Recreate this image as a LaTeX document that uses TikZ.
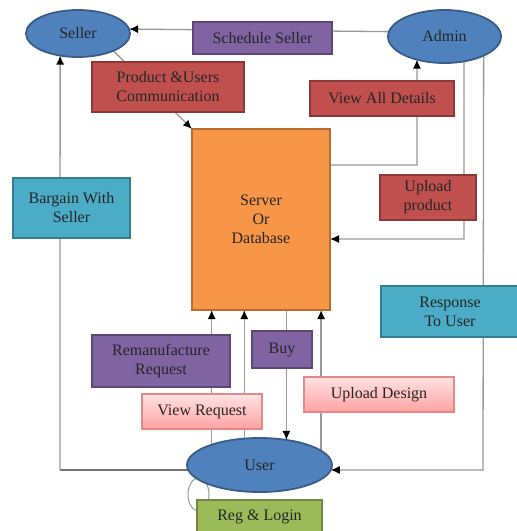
\documentclass[tikz,border=0pt]{standalone}
\usepackage{fontspec}
\setmainfont{Liberation Serif}
\usetikzlibrary{shapes.geometric,arrows.meta}
\pgfdeclarelayer{background}
\pgfsetlayers{background,main}

\definecolor{txt}{HTML}{262626}
\definecolor{bluefill}{HTML}{4F81BD}
\definecolor{blueline}{HTML}{385D8A}
\definecolor{purpfill}{HTML}{8064A2}
\definecolor{purpline}{HTML}{5C4776}
\definecolor{redfill}{HTML}{C0504D}
\definecolor{redline}{HTML}{8C3836}
\definecolor{tealfill}{HTML}{4BACC6}
\definecolor{tealline}{HTML}{357D91}
\definecolor{greenfill}{HTML}{9BBB59}
\definecolor{greenline}{HTML}{71893F}
\definecolor{orangefill}{HTML}{F79646}
\definecolor{orangeline}{HTML}{B66D31}
\definecolor{pinktop}{HTML}{FFE2E2}
\definecolor{pinkbot}{HTML}{FFA2A2}
\definecolor{pinkline}{HTML}{E08A8A}
\definecolor{wire}{HTML}{999999}

\tikzset{
  base/.style={inner sep=0pt, outer sep=0pt, line width=1.8pt, align=center,
    text=txt, font=\fontsize{16}{19}\selectfont},
  actor/.style={base, ellipse, fill=bluefill, draw=blueline},
  purpbox/.style={base, rectangle, fill=purpfill, draw=purpline},
  redbox/.style={base, rectangle, fill=redfill, draw=redline},
  tealbox/.style={base, rectangle, fill=tealfill, draw=tealline},
  greenbox/.style={base, rectangle, fill=greenfill, draw=greenline},
  pinkbox/.style={base, rectangle, top color=pinktop, bottom color=pinkbot, draw=pinkline, line width=1.2pt},
  serverbox/.style={base, rectangle, fill=orangefill, draw=orangeline},
  conn/.style={draw=wire, line width=1.3pt},
  darkconn/.style={draw=black!85, line width=1.3pt},
  tip/.style={-{Latex[length=9pt,width=8pt,color=black]}},
  sz/.style 2 args={minimum width=#1pt, minimum height=#2pt}
}

\begin{document}
\begin{tikzpicture}[x=1pt,y=-1pt]
\useasboundingbox (0,0) rectangle (517,531);

% actors
\node[actor, sz={104}{47}] (seller) at (78,33.5) {Seller};
\node[actor, sz={113}{53}] (admin) at (444.5,36.5) {Admin};
\node[actor, sz={145}{54}] (user) at (259.5,465) {User};

% central store
\node[serverbox, sz={138}{181}] (server) at (261,219.5) {Server\\Or\\Database};

% labels on the flows
\node[purpbox, sz={139}{32}] (sched) at (262.5,38) {Schedule Seller};
\node[redbox, sz={152}{50}] (comm) at (168,87) {Product \&Users\\Communication};
\node[redbox, sz={144}{35}] (viewall) at (382,98.5) {View All Details};
\node[redbox, sz={96}{45}] (upprod) at (428,197.5) {Upload\\product};
\node[tealbox, sz={138}{51}] (resp) at (450,311.5) {Response\\To User};
\node[tealbox, sz={117}{60}] (bargain) at (71.5,208) {Bargain With\\Seller};
\node[purpbox, sz={138}{52}] (reman) at (161,361) {Remanufacture\\Request};
\node[purpbox, sz={60}{37}] (buy) at (282,349.5) {Buy};
\node[pinkbox, sz={120}{35}] (viewreq) at (202,411.5) {View Request};
\node[pinkbox, sz={150}{35}] (updesign) at (379,394.5) {Upload Design};
\node[greenbox, sz={125}{33}] (reg) at (259.5,516.5) {Reg \& Login};

% connectors, kept behind the boxes
\begin{pgfonlayer}{background}
  \coordinate (pva) at (417,165);
  \coordinate (pup) at (464,239);
  \coordinate (prs) at (483,470);
  \coordinate (pbg) at (60,470);

  \draw[conn, tip] (admin.175.4) -- (seller.5);
  \draw[conn, tip] (seller.-26) -- (server.north west);
  \draw[conn, tip] (pva -| server.east) -- (pva) -- (admin.220.8);
  \draw[conn, tip] (admin.-52.8) -- (pup) -- (pup -| server.east);
  \draw[conn, tip] (admin.-26.2) -- (prs) -- (user.-4);
  \draw[darkconn] (user.184) -- (pbg);
  \draw[conn, tip] (pbg) -- (seller.231.3);
  \draw[conn, tip] (server.south -| user.43.4) -- (user.43.4);
  \draw[conn, tip] (user.157.5) -- (user.157.5 |- server.south);
  \draw[conn, tip] (user.120.4) -- (user.120.4 |- server.south);
  \draw[conn, tip] (user.13.8) -- (user.13.8 |- server.south);
  % self loop between User and Reg & Login
  \draw[draw=wire, line width=1pt] (reg.north west) ++(1.5,-5.5) ellipse [x radius=10.5, y radius=16.5];
\end{pgfonlayer}
\end{tikzpicture}
\end{document}
